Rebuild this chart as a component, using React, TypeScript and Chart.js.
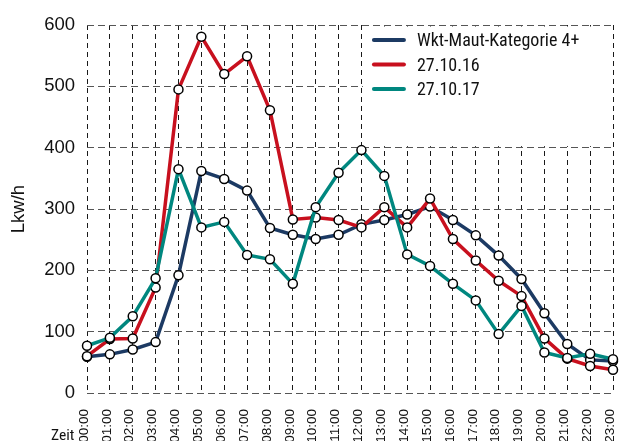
import React, { useEffect, useRef } from 'react';
import { Chart, registerables } from 'chart.js';
Chart.register(...registerables);

const hours = ['00:00','01:00','02:00','03:00','04:00','05:00','06:00','07:00','08:00','09:00','10:00','11:00','12:00','13:00','14:00','15:00','16:00','17:00','18:00','19:00','20:00','21:00','22:00','23:00'];
const wktMaut = [59,63,71,83,192,362,349,330,269,258,251,258,275,282,291,304,282,257,224,186,130,80,54,52];
const day161027 = [60,88,89,172,495,581,520,549,461,283,286,282,270,303,270,317,251,216,183,158,89,56,44,38];
const day171027 = [77,90,125,187,365,270,279,225,218,178,303,359,396,354,226,207,178,151,96,142,66,57,64,55];
const seriesNames = ['Wkt-Maut-Kategorie 4+', '27.10.16', '27.10.17'];
const seriesColors = ['#1c3a63', '#c8101e', '#00877f'];
const yTicks = [0, 100, 200, 300, 400, 500, 600];
const xTitle = 'Zeit';
const yTitle = 'Lkw/h';

const NARROW = "'Roboto Condensed', 'Liberation Sans Narrow', 'Arial Narrow', 'Liberation Sans', Arial, sans-serif";
const REGULAR = "'Liberation Sans', Arial, sans-serif";

const overlay = {
  id: 'overlay',
  beforeDatasetsDraw(chart: any) {
    const { ctx, chartArea } = chart;
    const xs = chart.scales.x;
    const ys = chart.scales.y;
    const left = xs.getPixelForValue(12) + 1.5;
    const right = chartArea.right - 1.5;
    const top = chartArea.top + 1.5;
    const bottom = ys.getPixelForValue(400) - 1.5;
    ctx.save();
    ctx.fillStyle = '#ffffff';
    ctx.fillRect(left, top, right - left, bottom - top);
    ctx.font = `18px ${NARROW}`;
    ctx.textBaseline = 'middle';
    ctx.textAlign = 'left';
    seriesNames.forEach((name, i) => {
      const y = top + 13.5 + i * 24.5;
      ctx.beginPath();
      ctx.strokeStyle = seriesColors[i];
      ctx.lineWidth = 4;
      ctx.lineCap = 'round';
      ctx.moveTo(left + 11, y);
      ctx.lineTo(left + 41, y);
      ctx.stroke();
      ctx.fillStyle = '#111';
      ctx.fillText(name, left + 54, y + 1.5);
    });
    ctx.restore();
  },
  afterDraw(chart: any) {
    const { ctx, chartArea } = chart;
    ctx.save();
    ctx.font = `15.5px ${NARROW}`;
    ctx.fillStyle = '#111';
    ctx.textAlign = 'left';
    ctx.textBaseline = 'alphabetic';
    ctx.fillText(xTitle, chartArea.left - 36, chart.height - 1);
    ctx.restore();
  },
};

export default function App() {
  const ref = useRef<HTMLCanvasElement>(null);
  useEffect(() => {
    const canvas = ref.current;
    if (!canvas) return;
    const data = [wktMaut, day161027, day171027];
    const chart = new Chart(canvas, {
      type: 'line',
      data: {
        labels: hours,
        datasets: data.map((d, i) => ({
          label: seriesNames[i],
          data: d,
          borderColor: seriesColors[i],
          backgroundColor: seriesColors[i],
          borderWidth: 3.5,
          pointRadius: 4.5,
          pointBorderWidth: 1.5,
          pointBackgroundColor: '#ffffff',
          pointBorderColor: '#000000',
          tension: 0,
          order: 3 - i,
        })),
      },
      options: {
        responsive: false,
        maintainAspectRatio: false,
        animation: false,
        devicePixelRatio: 1,
        layout: { padding: { left: 0, right: 17, top: 25, bottom: 0 } },
        plugins: { legend: { display: false }, tooltip: { enabled: false } },
        scales: {
          x: {
            offset: false,
            grid: { color: '#1a1a1a', lineWidth: 1, drawTicks: false },
            border: { display: false, dash: [5, 4] },
            ticks: {
              autoSkip: false,
              minRotation: 90,
              maxRotation: 90,
              padding: 16,
              labelOffset: -3,
              color: '#111',
              font: { family: REGULAR, size: 13.5 },
            },
            afterFit(scale: any) {
              scale.height = 48;
              scale.paddingLeft = 0;
              scale.paddingRight = 0;
            },
          },
          y: {
            min: 0,
            max: 600,
            afterBuildTicks(scale: any) {
              scale.ticks = yTicks.map((v) => ({ value: v }));
            },
            grid: { color: '#555555', lineWidth: 1, drawTicks: false },
            border: { display: false, dash: [7, 4] },
            ticks: {
              padding: 12,
              color: '#111',
              font: { family: REGULAR, size: 18.5 },
            },
            title: {
              display: true,
              text: yTitle,
              color: '#111',
              font: { family: REGULAR, size: 18.5 },
              padding: { top: 8, bottom: 0 },
            },
            afterFit(scale: any) {
              scale.width = 87;
              scale.paddingTop = 0;
              scale.paddingBottom = 0;
            },
          },
        },
      },
      plugins: [overlay],
    });
    return () => chart.destroy();
  }, []);
  return (
    <div style={{ position: 'fixed', left: 0, top: 0, width: 630, height: 441, background: '#fff' }}>
      <canvas ref={ref} width={630} height={441} />
    </div>
  );
}
